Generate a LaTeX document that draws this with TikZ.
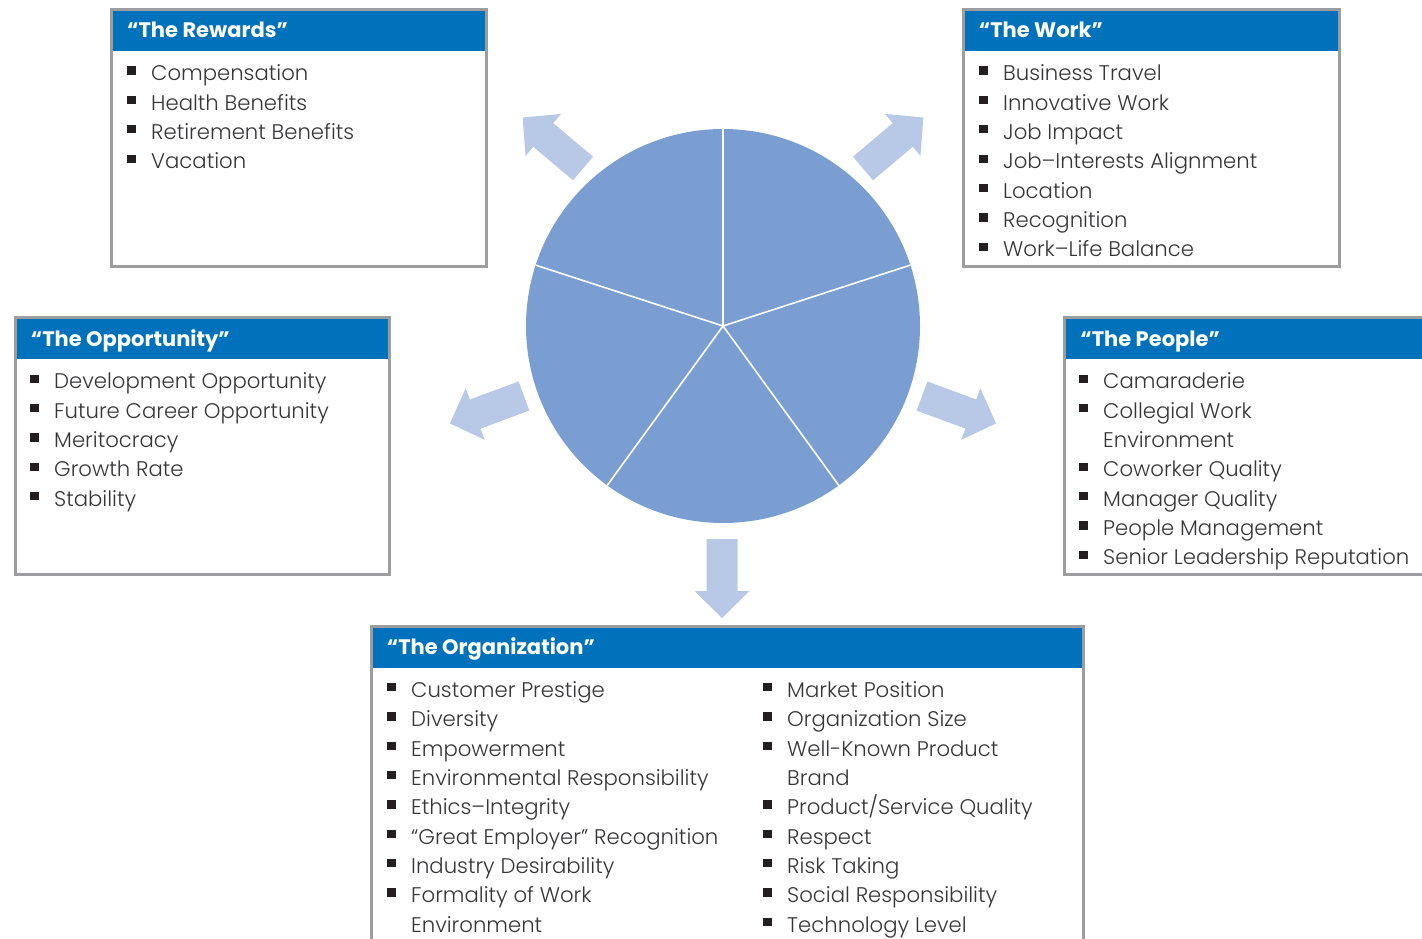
\documentclass[tikz,border=0pt]{standalone}
\usepackage{fontspec}
\setmainfont{Poppins}[UprightFont={* Light},BoldFont={* Bold}]
\definecolor{headblue}{HTML}{0072BC}
\definecolor{framegray}{HTML}{9D9D9F}
\definecolor{piefill}{HTML}{7A9ED2}
\definecolor{arrowblue}{HTML}{B7C9E6}
\definecolor{itemgray}{HTML}{363638}
\definecolor{bulletblack}{HTML}{231F20}

% category box: name, left, top, right, bottom, title
\newcommand\catbox[6]{%
  \fill[headblue] (#2,#3) rectangle (#4,#3+41.5);
  \node[headtext] (#1) at (#2+15.7,#3+28.5) {#6};
  \draw[boxborder] (#2,#3) rectangle (#4,#5);}
% bulleted entry: name, text left, box top, row, text
\newcommand\bitem[5]{%
  \fill[bulletblack] (#2-24,#3+71.3+29.35*#4-14.3) rectangle ++(8.7,8.3);
  \node[itemtext] (#1) at (#2,#3+71.3+29.35*#4) {#5};}
% continuation line of an entry: name, text left, box top, row, text
\newcommand\citem[5]{%
  \node[itemtext] (#1) at (#2,#3+71.3+29.35*#4) {#5};}

\begin{document}
\begin{tikzpicture}[x=1pt,y=-1pt,
  boxborder/.style={draw=framegray,line width=3pt},
  headtext/.style={anchor=base west,inner sep=0pt,text=white,
    font=\fontsize{21}{25}\selectfont\bfseries},
  itemtext/.style={anchor=base west,inner sep=0pt,text=itemgray,
    font=\fontsize{21.2}{25}\selectfont},
  blockarrow/.pic={\fill[arrowblue] (0,-15.5) -- (52,-15.5) -- (52,-27.5)
    -- (79,0) -- (52,27.5) -- (52,15.5) -- (0,15.5) -- cycle;}]
\useasboundingbox (0,0) rectangle (1422,939);
\clip (0,0) rectangle (1422,939);

% central pie of five equal slices
\fill[piefill] (723,326) circle[radius=197pt];
\coordinate (pc) at (723,326);
\foreach \px/\py in {723/129, 910.4/265.1, 838.8/485.4, 607.2/485.4, 535.6/265.1}
  \draw[white,line width=1.6pt] (pc) -- (\px,\py);

% block arrows pointing out of the pie
\pic[rotate=139.8] at (583,168.5) {blockarrow};
\pic[rotate=40.2]  at (863,168.5) {blockarrow};
\pic[rotate=200.3] at (524,396)   {blockarrow};
\pic[rotate=-20.3] at (922,396)   {blockarrow};
\pic[rotate=-90]   at (722,539)   {blockarrow};

% The Rewards
\catbox{rewards}{111.3}{9.5}{486.5}{266.5}{“The Rewards”}
\bitem{rw1}{151}{9.5}{0}{Compensation}
\bitem{rw2}{151}{9.5}{1}{Health Benefits}
\bitem{rw3}{151}{9.5}{2}{Retirement Benefits}
\bitem{rw4}{151}{9.5}{3}{Vacation}

% The Work
\catbox{work}{963}{9.5}{1339}{266.5}{“The Work”}
\bitem{wk1}{1003}{9.5}{0}{Business Travel}
\bitem{wk2}{1003}{9.5}{1}{Innovative Work}
\bitem{wk3}{1003}{9.5}{2}{Job Impact}
\bitem{wk4}{1003}{9.5}{3}{Job–Interests Alignment}
\bitem{wk5}{1003}{9.5}{4}{Location}
\bitem{wk6}{1003}{9.5}{5}{Recognition}
\bitem{wk7}{1003}{9.5}{6}{Work–Life Balance}

% The Opportunity
\catbox{opportunity}{15}{317.5}{389.5}{574.5}{“The Opportunity”}
\bitem{op1}{54}{317.5}{0}{Development Opportunity}
\bitem{op2}{54}{317.5}{1}{Future Career Opportunity}
\bitem{op3}{54}{317.5}{2}{Meritocracy}
\bitem{op4}{54}{317.5}{3}{Growth Rate}
\bitem{op5}{54}{317.5}{4}{Stability}

% The People
\catbox{people}{1064.5}{317.5}{1450}{574.5}{“The People”}
\bitem{pp1}{1103}{317.5}{0}{Camaraderie}
\bitem{pp2}{1103}{317.5}{1}{Collegial Work}
\citem{pp2b}{1103}{317.5}{2}{Environment}
\bitem{pp3}{1103}{317.5}{3}{Coworker Quality}
\bitem{pp4}{1103}{317.5}{4}{Manager Quality}
\bitem{pp5}{1103}{317.5}{5}{People Management}
\bitem{pp6}{1103}{317.5}{6}{Senior Leadership Reputation}

% The Organization
\catbox{organization}{371}{626}{1083.5}{970}{“The Organization”}
\bitem{og1}{411}{626}{0}{Customer Prestige}
\bitem{og2}{411}{626}{1}{Diversity}
\bitem{og3}{411}{626}{2}{Empowerment}
\bitem{og4}{411}{626}{3}{Environmental Responsibility}
\bitem{og5}{411}{626}{4}{Ethics–Integrity}
\bitem{og6}{411}{626}{5}{“Great Employer” Recognition}
\bitem{og7}{411}{626}{6}{Industry Desirability}
\bitem{og8}{411}{626}{7}{Formality of Work}
\citem{og8b}{411}{626}{8}{Environment}
\bitem{og9}{787}{626}{0}{Market Position}
\bitem{og10}{787}{626}{1}{Organization Size}
\bitem{og11}{787}{626}{2}{Well-Known Product}
\citem{og11b}{787}{626}{3}{Brand}
\bitem{og12}{787}{626}{4}{Product/Service Quality}
\bitem{og13}{787}{626}{5}{Respect}
\bitem{og14}{787}{626}{6}{Risk Taking}
\bitem{og15}{787}{626}{7}{Social Responsibility}
\bitem{og16}{787}{626}{8}{Technology Level}
\end{tikzpicture}
\end{document}
